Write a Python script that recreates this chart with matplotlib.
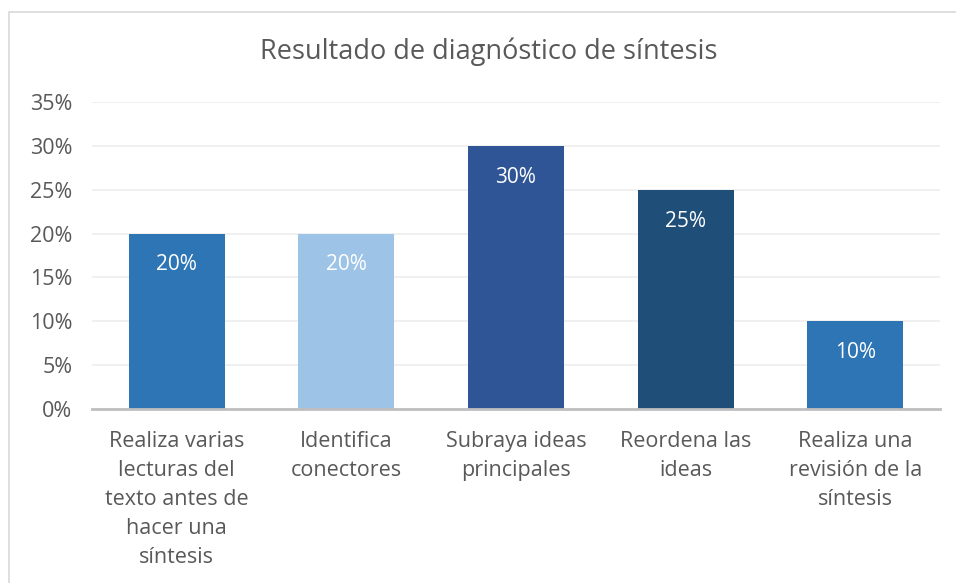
import matplotlib.pyplot as plt
from matplotlib.patches import Rectangle
from matplotlib.ticker import FuncFormatter

# Data
categories = [
    "Realiza varias\nlecturas del\ntexto antes de\nhacer una\nsíntesis",
    "Identifica\nconectores",
    "Subraya ideas\nprincipales",
    "Reordena las\nideas",
    "Realiza una\nrevisión de la\nsíntesis",
]
values = [0.20, 0.20, 0.30, 0.25, 0.10]
bar_colors = ["#2E75B6", "#9DC3E6", "#2F5597", "#1F4E79", "#2E75B6"]
title = "Resultado de diagnóstico de síntesis"

plt.rcParams["font.family"] = ["Open Sans", "DejaVu Sans"]
text_color = "#595959"

fig = plt.figure(figsize=(9.56, 5.83), dpi=100)
fig.patches.append(
    Rectangle((9 / 956, -0.1), 1.2, 1 - 12 / 583 + 0.1, transform=fig.transFigure,
              fill=False, edgecolor="#D9D9D9", linewidth=1.2)
)

ax = fig.add_axes([92 / 956, 1 - 409 / 583, (940 - 92) / 956, (409 - 102) / 583])
x = range(len(categories))
bars = ax.bar(x, values, width=0.565, color=bar_colors, zorder=3)

for xi, v in zip(x, values):
    ax.annotate(f"{v:.0%}", (xi, v), xytext=(0, -15), textcoords="offset points",
                ha="center", va="top", color="white", fontsize=15)

ax.set_ylim(0, 0.35)
ax.set_xlim(-0.5, len(categories) - 0.5)
ax.set_yticks([i * 0.05 for i in range(8)])
ax.yaxis.set_major_formatter(FuncFormatter(lambda v, p: f"{v:.0%}"))
ax.grid(axis="y", color="#EDEDED", linewidth=1.2, zorder=0)
ax.set_xticks(list(x))
ax.set_xticklabels(categories, linespacing=1.5)
ax.tick_params(axis="both", length=0, labelsize=15.5, colors=text_color)
ax.tick_params(axis="x", pad=16)
ax.tick_params(axis="y", pad=14)

for s in ["top", "right", "left"]:
    ax.spines[s].set_visible(False)
ax.spines["bottom"].set_color("#BFBFBF")
ax.spines["bottom"].set_linewidth(2)
ax.spines["bottom"].set_zorder(4)

fig.text(489 / 956, 1 - 52 / 583, title, ha="center", va="center",
         fontsize=19.5, color=text_color)

plt.savefig("out.png", dpi=100)
plt.close()
